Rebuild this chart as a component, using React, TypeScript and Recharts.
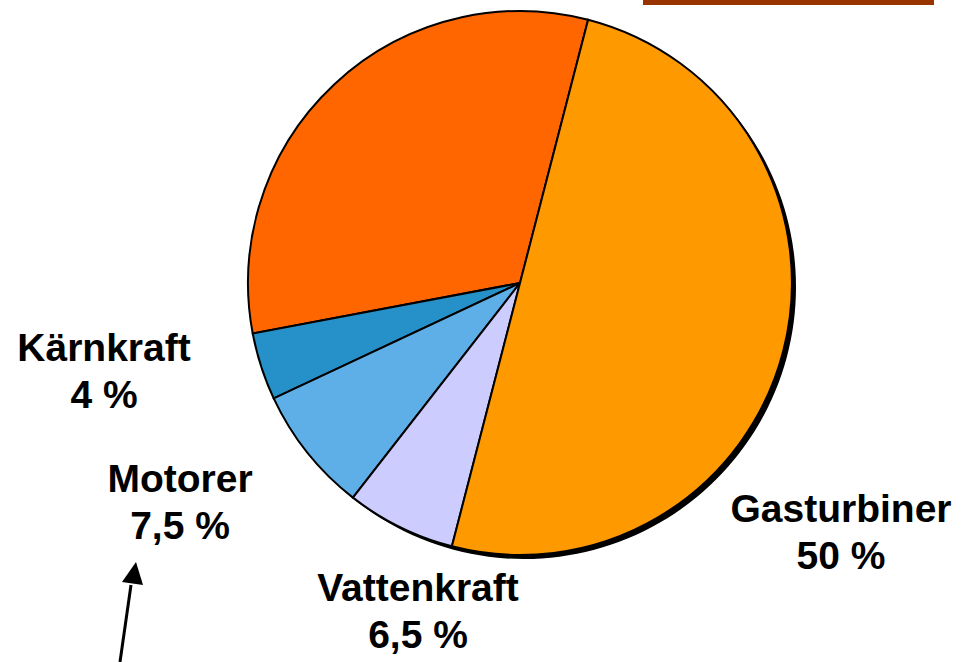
import React from 'react';
import { PieChart, Pie, Cell, Customized } from 'recharts';

const categories = ['Övrigt', 'Kärnkraft', 'Motorer', 'Vattenkraft', 'Gasturbiner'];
const shares = [32, 4, 7.5, 6.5, 50];
const colors = ['#FF6600', '#2690C8', '#5EAFE8', '#CCCCFF', '#FF9900'];
const labelled = ['Kärnkraft', 'Motorer', 'Vattenkraft', 'Gasturbiner'];

const data = categories.map((name, i) => ({ name, value: shares[i] }));
const shadowData = [{ name: 'shadow', value: 1 }];

// label anchor layout (centre x, first baseline y)
const labelLayout: Record<string, [number, number]> = {
  'Kärnkraft': [104, 361],
  'Motorer': [180, 492],
  'Vattenkraft': [418, 601],
  'Gasturbiner': [841, 522],
};

const FONT = '"Liberation Sans", Arial, sans-serif';

const fmt = (v: number) => `${String(v).replace('.', ',')} %`;

const Overlay = () => (
  <g>
    <rect x={643} y={0} width={291} height={5} fill="#993300" />
    {labelled.map((name) => {
      const idx = categories.indexOf(name);
      const [x, y] = labelLayout[name];
      return (
        <text
          key={name}
          x={x}
          y={y}
          textAnchor="middle"
          fontFamily={FONT}
          fontWeight="bold"
          fontSize={39}
          fill="#000"
        >
          <tspan x={x} y={y}>{name}</tspan>
          <tspan x={x} y={y + 47}>{fmt(shares[idx])}</tspan>
        </text>
      );
    })}
    <line x1={120} y1={662} x2={131} y2={585} stroke="#000" strokeWidth={3} />
    <polygon points="136,562 122,582 143,585" fill="#000" />
  </g>
);

export default function App() {
  return (
    <div style={{ position: 'absolute', left: 0, top: 0 }}>
      <PieChart width={972} height={662} margin={{ top: 0, right: 0, bottom: 0, left: 0 }}>
        <Pie
          data={shadowData}
          dataKey="value"
          cx={524}
          cy={287}
          outerRadius={272}
          fill="#000"
          stroke="none"
          isAnimationActive={false}
        />
        <Pie
          data={data}
          dataKey="value"
          cx={520}
          cy={283}
          outerRadius={272}
          startAngle={75.5}
          endAngle={435.5}
          stroke="#000"
          strokeWidth={2}
          isAnimationActive={false}
        >
          {data.map((d, i) => (
            <Cell key={d.name} fill={colors[i]} />
          ))}
        </Pie>
        <Customized component={Overlay} />
      </PieChart>
    </div>
  );
}
